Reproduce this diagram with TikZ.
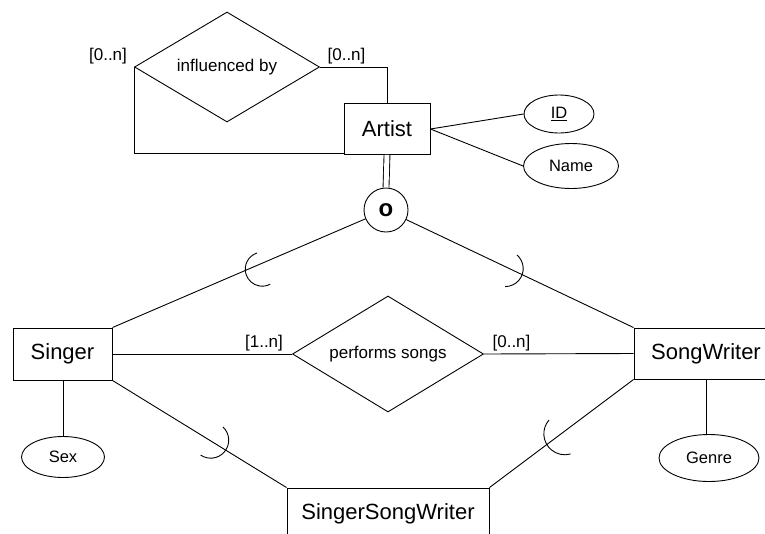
\documentclass[tikz,border=0pt]{standalone}
\usepackage{fontspec}
\setmainfont{Liberation Sans}
\usetikzlibrary{shapes.geometric}
\begin{document}
\begin{tikzpicture}[x=1pt,y=1pt,line width=0.9pt,
  entity/.style={draw,rectangle,inner sep=0pt,font=\fontsize{22}{26}\selectfont},
  rel/.style={draw,diamond,shape aspect=1.7,inner sep=0pt,font=\fontsize{17}{20}\selectfont},
  attr/.style={draw,ellipse,inner sep=0pt,font=\fontsize{16.5}{19}\selectfont},
  card/.style={inner sep=0pt,font=\fontsize{17}{20}\selectfont},
  disj/.style={draw,circle,inner sep=0pt,minimum size=44pt,font=\fontsize{24}{28}\selectfont\bfseries}]
\useasboundingbox (0,0) rectangle (765,-533);
% nodes
\node[rel,minimum width=185pt,minimum height=110pt] (inf) at (227,-67) {influenced by};
\node[entity,minimum width=86pt,minimum height=51pt] (artist) at (387,-129) {Artist};
\node[attr,minimum width=70pt,minimum height=38pt] (id) at (559,-114) {\underline{ID}};
\node[attr,minimum width=95pt,minimum height=45pt] (name) at (571,-166) {Name};
\node[disj] (o) at (386,-210) {o};
\node[entity,minimum width=99pt,minimum height=52pt] (singer) at (62.5,-354) {Singer};
\node[entity,minimum width=144pt,minimum height=51pt] (sw) at (706,-353.5) {SongWriter};
\node[rel,minimum width=191pt,minimum height=116pt] (perf) at (388,-354) {performs songs};
\node[entity,minimum width=202pt,minimum height=52pt] (ssw) at (388,-514) {SingerSongWriter};
\node[attr,minimum width=83pt,minimum height=41pt] (sex) at (63,-457) {Sex};
\node[attr,minimum width=100pt,minimum height=47pt] (genre) at (709,-458) {Genre};
% cardinalities
\node[card] (c1) at (108,-56) {[0..n]};
\node[card] (c2) at (346.5,-56) {[0..n]};
\node[card] (c3) at (264,-343) {[1..n]};
\node[card] (c4) at (511.5,-343) {[0..n]};
% connectors
\coordinate (al) at ([yshift=2pt]artist.south west);
\draw (inf.west) |- (al);
\draw (inf.east) -| (artist.north);
\draw (artist.east) -- (id.west);
\draw (artist.east) -- (name.west);
\draw[double,double distance=5pt] (artist.south) -- (o.north);
\draw (o) -- (singer.north east);
\draw (o) -- (sw.north west);
\draw (singer.east) -- (perf.west);
\draw (perf.east) -- (sw.west);
\draw (singer.south east) -- (ssw.north west);
\draw (sw.south west) -- (ssw.north east);
\draw (sex.north) -- (sex.north |- singer.south);
\draw (sw.south) -- (sw.south |- genre.north);
% subset arcs
\draw (257,-253) arc[start angle=108,end angle=298,radius=17];
\draw (517,-255) arc[start angle=49,end angle=-90,radius=18];
\draw (223,-427) arc[start angle=47,end angle=-124,radius=18];
\draw (549,-420) arc[start angle=139,end angle=286,radius=21];
\end{tikzpicture}
\end{document}
